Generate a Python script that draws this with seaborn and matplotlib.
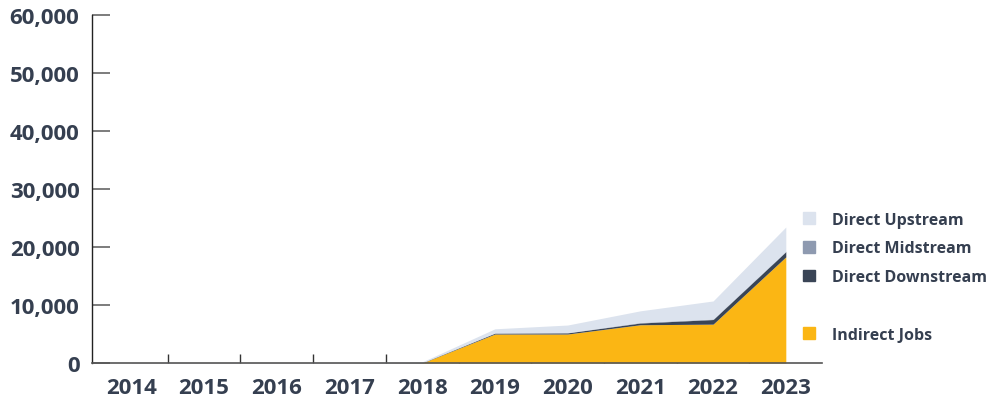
import numpy as np
import matplotlib
matplotlib.use('Agg')
import matplotlib.pyplot as plt
import seaborn as sns
from matplotlib.patches import Patch
from matplotlib.ticker import FuncFormatter

years = ['2014', '2015', '2016', '2017', '2018', '2019', '2020', '2021', '2022', '2023']
indirect_jobs = [0, 0, 0, 0, 0, 5000, 5000, 6600, 6700, 18300]
direct_downstream = [0, 0, 0, 0, 50, 150, 200, 300, 800, 900]
direct_midstream = [0, 0, 0, 0, 0, 50, 50, 100, 100, 100]
direct_upstream = [50, 50, 50, 50, 150, 700, 1300, 2000, 3100, 4150]
y_ticks = [0, 10000, 20000, 30000, 40000, 50000, 60000]

text_color = '#353f50'
colors = {
    'Indirect Jobs': '#fbb614',
    'Direct Downstream': '#3a4556',
    'Direct Midstream': '#8e9ab0',
    'Direct Upstream': '#dce3ee',
}

sns.set_style('white')
plt.rcParams['font.family'] = ['Open Sans', 'DejaVu Sans']
plt.rcParams['font.weight'] = 'bold'

fig = plt.figure(figsize=(9.87, 4.02), dpi=100)
ax = fig.add_axes([0.0932, 0.0945, 0.7398, 0.8655])

x = np.arange(len(years))
ax.stackplot(
    x,
    indirect_jobs, direct_downstream, direct_midstream, direct_upstream,
    colors=[colors['Indirect Jobs'], colors['Direct Downstream'],
            colors['Direct Midstream'], colors['Direct Upstream']],
    linewidth=0,
)

ax.set_xlim(-0.54, 9.5)
ax.set_ylim(0, 60000)
ax.set_yticks(y_ticks)
ax.yaxis.set_major_formatter(FuncFormatter(lambda v, p: f'{int(v):,}'))
ax.set_xticks(x)
ax.set_xticklabels(years)
ax.set_xticks(x[:-1] + 0.5, minor=True)

ax.tick_params(axis='y', direction='in', length=13, width=1.2, color='#666666',
               pad=9, labelsize=16, labelcolor=text_color, left=True)
ax.tick_params(axis='x', which='major', length=0, pad=10, labelsize=16,
               labelcolor=text_color, bottom=True)
ax.tick_params(axis='x', which='minor', direction='in', length=6.5, width=1,
               color='#333333', bottom=True)

for side in ['top', 'right']:
    ax.spines[side].set_visible(False)
ax.spines['left'].set_color('#222222')
ax.spines['left'].set_linewidth(1)
ax.spines['bottom'].set_color('#555555')
ax.spines['bottom'].set_linewidth(1.2)

handles = [
    Patch(color=colors['Direct Upstream']),
    Patch(color=colors['Direct Midstream']),
    Patch(color=colors['Direct Downstream']),
    Patch(color='none'),
    Patch(color=colors['Indirect Jobs']),
]
labels = ['Direct Upstream', 'Direct Midstream', 'Direct Downstream', '', 'Indirect Jobs']
leg = fig.legend(handles, labels, loc='upper left', bbox_to_anchor=(0.807, 0.487),
                 frameon=False, fontsize=11.5, handlelength=0.75, handleheight=0.75,
                 handletextpad=1.06, labelspacing=0.8, borderaxespad=0)
for t in leg.get_texts():
    t.set_color(text_color)
    t.set_fontweight('bold')

fig.savefig('out.png', dpi=100)
